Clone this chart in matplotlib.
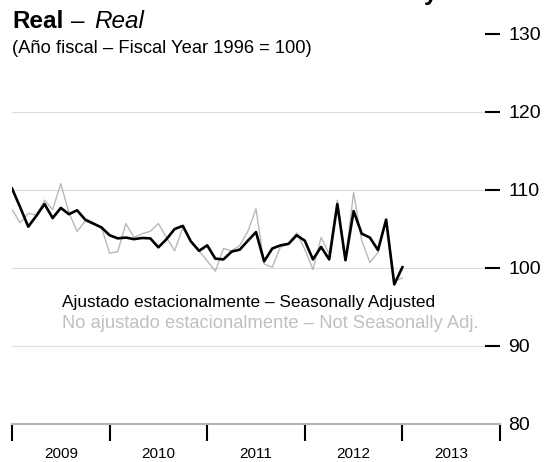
import matplotlib
matplotlib.use("Agg")
import matplotlib.pyplot as plt

plt.rcParams['font.family'] = ['Liberation Sans', 'DejaVu Sans']

# monthly index, Jan 2009 .. Jan 2013
meses = list(range(49))

ajustado = [110.2, 107.8, 105.3, 106.7, 108.2, 106.4, 107.7, 106.9, 107.4, 106.2,
            105.7, 105.2, 104.2, 103.8, 103.9, 103.7, 103.85, 103.8, 102.65, 103.7,
            105.0, 105.4, 103.4, 102.2, 102.9, 101.2, 101.1, 102.1, 102.35, 103.5,
            104.6, 100.85, 102.5, 102.9, 103.1, 104.2, 103.5, 101.1, 102.7, 101.1,
            108.2, 101.0, 107.3, 104.4, 103.9, 102.3, 106.2, 97.9, 100.1]

no_ajustado = [107.5, 105.8, 107.0, 106.8, 108.7, 107.5, 110.8, 107.1, 104.7, 106.0,
               105.6, 105.2, 101.9, 102.1, 105.7, 103.9, 104.4, 104.7, 105.7, 103.9,
               102.2, 105.2, 103.5, 102.2, 100.9, 99.6, 102.5, 102.2, 102.9, 104.7,
               107.6, 100.5, 100.1, 102.7, 103.1, 104.5, 102.4, 99.8, 103.9, 101.8,
               108.7, 101.0, 109.7, 103.5, 100.7, 102.0, 106.0, 98.4, 98.7]

anios = ['2009', '2010', '2011', '2012', '2013']
yticks = [80, 90, 100, 110, 120, 130]
rejilla = [90, 100, 110, 120]

W, H = 551, 462
fig = plt.figure(figsize=(W / 100, H / 100), dpi=100)
ax = fig.add_axes([12 / W, 1 - 424 / H, 488 / W, 390 / H])

for v in rejilla:
    ax.axhline(v, color='#dcdcdc', lw=0.8, zorder=1)

ax.plot(meses, no_ajustado, color='#b8b8b8', lw=1.0, zorder=2)
ax.plot(meses, ajustado, color='black', lw=1.9, zorder=3)

ax.set_xlim(0, 60)
ax.set_ylim(80, 130)

for s in ['top', 'left', 'right']:
    ax.spines[s].set_visible(False)
ax.spines['bottom'].set_color('#b4b4b4')
ax.spines['bottom'].set_linewidth(1.5)

# eje x: limites de año y etiquetas en el medio
ax.set_xticks([0, 12, 24, 36, 48, 60])
ax.set_xticklabels([])
ax.tick_params(axis='x', which='major', direction='out', length=12, width=1.5, color='black')
ax.set_xticks([6, 18, 30, 42, 54], minor=True)
ax.set_xticklabels(anios, minor=True, fontsize=11)
ax.tick_params(axis='x', which='minor', length=0, pad=16.5)

# eje y a la derecha con guiones
ax.yaxis.tick_right()
ax.set_yticks(yticks)
ax.set_yticklabels([str(v) for v in yticks], fontsize=14)
ax.tick_params(axis='y', direction='in', length=11, width=1.5, pad=6)
ax.yaxis.get_major_ticks()[0].tick2line.set_visible(False)

fig.text(12 / W, 1 - 28 / H, 'Real', fontsize=17.5, fontweight='bold', va='baseline')
fig.text(71 / W, 1 - 28 / H, '–', fontsize=17.5, va='baseline')
fig.text(94 / W, 1 - 28 / H, 'Real', fontsize=17.5, style='italic', va='baseline')
fig.text(12 / W, 1 - 53 / H, '(Año fiscal – Fiscal Year 1996 = 100)', fontsize=13.2, va='baseline')
fig.text(424 / W, 1 - 0 / H, 'y', fontsize=17.5, fontweight='bold', va='baseline')

fig.text(62 / W, 1 - 302 / H, 'Ajustado estacionalmente – Seasonally Adjusted',
         fontsize=12.4, va='center')
fig.text(62 / W, 1 - 324 / H, 'No ajustado estacionalmente – Not Seasonally Adj.',
         fontsize=13.2, va='center', color='#c0c0c0')

fig.savefig('out.png', dpi=100)
